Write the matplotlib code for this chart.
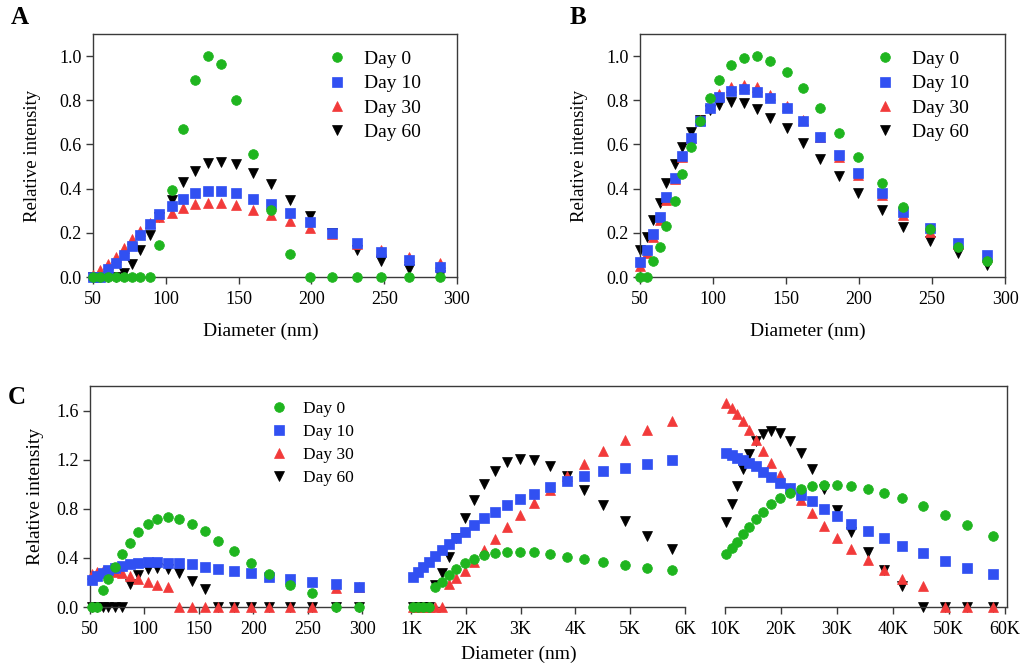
import matplotlib
matplotlib.use("Agg")
import matplotlib.pyplot as plt
from matplotlib.lines import Line2D
from matplotlib.ticker import FormatStrFormatter

W, H = 1022, 668

labels = ["Day 0", "Day 10", "Day 30", "Day 60"]
colors = ["#1fb51f", "#3150f2", "#f23a3a", "#000000"]
markers = ["o", "s", "^", "v"]
msizes = [7.0, 6.5, 7.0, 7.0]
zorders = [5, 4, 3, 2]

# ---- Panel A (diameter in nm) ----
a_diam = [50.2, 54.8, 60.2, 66.0, 71.0, 77.0, 82.3, 89.3, 95.6, 104.5, 112, 120,
          129, 138, 148, 160, 172, 185, 199, 214, 231, 248, 267, 288]
a_day0 = [0, 0, 0, 0, 0, 0, 0, 0, 0.145, 0.394, 0.67, 0.894,
          1.0, 0.962, 0.80, 0.556, 0.303, 0.104, 0, 0, 0, 0, 0, 0]
a_day10 = [0.0, 0.0, 0.035, 0.062, 0.10, 0.14, 0.19, 0.24, 0.285, 0.323, 0.355, 0.379,
           0.39, 0.39, 0.38, 0.355, 0.33, 0.29, 0.247, 0.20, 0.155, 0.112, 0.077, 0.047]
a_day30 = [0.01, 0.03, 0.06, 0.09, 0.13, 0.17, 0.21, 0.245, 0.27, 0.29, 0.314, 0.329,
           0.333, 0.333, 0.324, 0.303, 0.28, 0.252, 0.223, 0.193, 0.15, 0.12, 0.09, 0.065]
a_day60 = [0, 0, 0, 0, 0.02, 0.06, 0.12, 0.19, 0.27, 0.35, 0.43, 0.48,
           0.515, 0.52, 0.51, 0.47, 0.42, 0.35, 0.276, 0.20, 0.122, 0.074, 0.035, 0.01]

# ---- Panel B ----
b_diam = [50, 54.6, 58.7, 63.7, 67.8, 73.8, 79, 85, 91, 98, 104, 112, 121,
          130, 139, 150.5, 161.4, 173, 186, 199.5, 216, 230, 248.6, 267.6, 288]
b_day0 = [0, 0, 0.074, 0.137, 0.232, 0.344, 0.466, 0.587, 0.706, 0.811, 0.894, 0.959, 0.992,
          1.0, 0.977, 0.929, 0.854, 0.763, 0.653, 0.542, 0.427, 0.315, 0.216, 0.134, 0.071]
b_day10 = [0.07, 0.122, 0.195, 0.273, 0.36, 0.45, 0.547, 0.63, 0.706, 0.766, 0.816, 0.842, 0.851,
           0.838, 0.811, 0.766, 0.706, 0.635, 0.552, 0.469, 0.381, 0.296, 0.22, 0.155, 0.10]
b_day30 = [0.05, 0.11, 0.18, 0.26, 0.35, 0.445, 0.545, 0.63, 0.71, 0.78, 0.83, 0.86, 0.87,
           0.86, 0.825, 0.775, 0.71, 0.635, 0.545, 0.46, 0.37, 0.28, 0.205, 0.15, 0.09]
b_day60 = [0.122, 0.183, 0.258, 0.336, 0.424, 0.511, 0.587, 0.655, 0.71, 0.756, 0.778, 0.793, 0.786,
           0.759, 0.721, 0.673, 0.605, 0.533, 0.457, 0.379, 0.303, 0.228, 0.164, 0.107, 0.054]

# ---- Panel C, segment 1 (nm) ----
c1_diam = [51.5, 56.7, 62.3, 66.8, 73, 79, 86.8, 94.4, 103, 112, 121.4,
           132, 143.4, 155.6, 167.9, 182.4, 197.7, 214.8, 233.8, 254.4, 276, 297]
c1_day0 = [0, 0, 0.138, 0.225, 0.323, 0.43, 0.523, 0.607, 0.675, 0.718, 0.732,
           0.718, 0.68, 0.62, 0.539, 0.458, 0.36, 0.268, 0.179, 0.116, 0, 0]
c1_day10 = [0.22, 0.25, 0.28, 0.30, 0.32, 0.335, 0.35, 0.36, 0.365, 0.365, 0.36,
            0.355, 0.347, 0.328, 0.309, 0.293, 0.274, 0.247, 0.228, 0.206, 0.184, 0.165]
c1_day30 = [0.27, 0.285, 0.29, 0.29, 0.285, 0.275, 0.25, 0.225, 0.205, 0.18, 0.16,
            0, 0, 0, 0, 0, 0, 0, 0, 0, 0.155, 0.165]
c1_day60 = [0, 0, 0, 0, 0, 0, 0.187, 0.26, 0.306, 0.314, 0.306,
            0.274, 0.214, 0.146, 0, 0, 0, 0, 0, 0, 0, 0]

# ---- Panel C, segment 2 (K nm) ----
c2_diam = [1.037, 1.126, 1.221, 1.325, 1.438, 1.56, 1.70, 1.83, 1.985, 2.15, 2.34,
           2.53, 2.76, 2.99, 3.25, 3.54, 3.84, 4.16, 4.51, 4.90, 5.31, 5.77]
c2_day0 = [0, 0, 0, 0, 0.16, 0.206, 0.26, 0.306, 0.355, 0.39, 0.423,
           0.441, 0.45, 0.45, 0.445, 0.43, 0.409, 0.388, 0.363, 0.341, 0.32, 0.301]
c2_day10 = [0.247, 0.287, 0.328, 0.368, 0.415, 0.463, 0.512, 0.564, 0.612, 0.667, 0.721,
            0.775, 0.829, 0.881, 0.924, 0.978, 1.024, 1.065, 1.106, 1.136, 1.168, 1.20]
c2_day30 = [0, 0, 0, 0, 0, 0, 0.187, 0.238, 0.295, 0.368, 0.463,
            0.55, 0.648, 0.748, 0.851, 0.957, 1.065, 1.168, 1.268, 1.358, 1.439, 1.512]
c2_day60 = [0, 0, 0, 0, 0.18, 0.279, 0.404, 0.56, 0.721, 0.87, 0.998,
            1.108, 1.181, 1.209, 1.2, 1.149, 1.068, 0.957, 0.829, 0.702, 0.58, 0.472]

# ---- Panel C, segment 3 (K nm) ----
c3_diam = [10.18, 11.2, 12.2, 13.2, 14.35, 15.54, 16.85, 18.3, 19.9, 21.6, 23.5,
           25.5, 27.7, 30.05, 32.6, 35.5, 38.45, 41.7, 45.4, 49.3, 53.3, 57.9]
c3_day0 = [0.428, 0.477, 0.531, 0.593, 0.653, 0.713, 0.775, 0.835, 0.884, 0.929, 0.965,
           0.986, 0.997, 0.997, 0.986, 0.965, 0.929, 0.884, 0.821, 0.748, 0.667, 0.58]
c3_day10 = [1.255, 1.235, 1.215, 1.195, 1.17, 1.145, 1.10, 1.06, 1.014, 0.97, 0.911,
            0.862, 0.802, 0.742, 0.68, 0.62, 0.558, 0.498, 0.436, 0.377, 0.32, 0.268]
c3_day30 = [1.661, 1.623, 1.575, 1.515, 1.445, 1.358, 1.271, 1.173, 1.073, 0.97, 0.87,
            0.762, 0.661, 0.558, 0.469, 0.382, 0.301, 0.228, 0.171, 0, 0, 0]
c3_day60 = [0.694, 0.837, 0.984, 1.127, 1.249, 1.352, 1.412, 1.434, 1.417, 1.352, 1.255,
            1.122, 0.959, 0.789, 0.612, 0.445, 0.301, 0.173, 0, 0, 0, 0]

SPINE = "#3a3a3a"
plt.rcParams["font.family"] = ["Liberation Serif", "DejaVu Serif"]
plt.rcParams["axes.linewidth"] = 1.0
plt.rcParams["axes.edgecolor"] = SPINE


def add_px_axes(fig, left, top, right, bottom):
    return fig.add_axes([left / W, 1 - bottom / H, (right - left) / W, (bottom - top) / H])


def draw_series(ax, x, ys):
    for y, lab, c, m, ms, z in zip(ys, labels, colors, markers, msizes, zorders):
        ax.plot(x, y, ls="none", marker=m, ms=ms, color=c, mec=c, mew=0.5,
                label=lab, zorder=z, clip_on=False)


def style_ticks(ax, size=13):
    ax.tick_params(direction="out", length=5, width=1.0, color=SPINE,
                   labelsize=size, pad=3)
    ax.tick_params(axis="x", pad=5)


def px_legend(ax, x_marker, y_row, fs, spacing):
    fs_px = fs * 100 / 72
    hl = 0.8
    x0 = x_marker - hl * fs_px / 2
    ax.legend(loc="upper left", bbox_to_anchor=(x0 / W, 1 - (y_row - 0.55 * fs_px) / H),
              bbox_transform=fig.transFigure, frameon=False, fontsize=fs,
              handlelength=hl, handletextpad=1.0, labelspacing=spacing,
              borderpad=0, borderaxespad=0, numpoints=1)


fig = plt.figure(figsize=(W / 100, H / 100), dpi=100)

# Panels A and B
for (left, right, diam, ys, tag, tag_x, lx, leg_x) in [
        (93, 457, a_diam, [a_day0, a_day10, a_day30, a_day60], "A", 20, 261, 337),
        (640, 1005, b_diam, [b_day0, b_day10, b_day30, b_day60], "B", 578, 808, 885)]:
    ax = add_px_axes(fig, left, 34, right, 277)
    draw_series(ax, diam, ys)
    ax.set_xlim(50, 300)
    ax.set_ylim(0, 1.1)
    ax.set_xticks([50, 100, 150, 200, 250, 300])
    ax.set_yticks([0, 0.2, 0.4, 0.6, 0.8, 1.0])
    ax.yaxis.set_major_formatter(FormatStrFormatter("%.1f"))
    style_ticks(ax)
    ax.set_ylabel("Relative intensity", fontsize=13.5)
    ax.yaxis.set_label_coords(-52 / (right - left), 0.5)
    ax.set_xlabel("Diameter (nm)", fontsize=14)
    ax.xaxis.set_label_coords((lx - left) / (right - left), -0.19)
    px_legend(ax, leg_x, 61, 14, 0.35)
    fig.text(tag_x / W, 1 - 18 / H, tag, fontsize=18, fontweight="bold",
             ha="center", va="center")

# Panel C: broken x axis in three segments
c_top, c_bot = 386, 607
segs = [
    (90, 362, c1_diam, [c1_day0, c1_day10, c1_day30, c1_day60], (50, 300),
     [50, 100, 150, 200, 250, 300], ["50", "100", "150", "200", "250", "300"]),
    (411, 685, c2_diam, [c2_day0, c2_day10, c2_day30, c2_day60], (1, 6),
     [1, 2, 3, 4, 5, 6], ["1K", "2K", "3K", "4K", "5K", "6K"]),
    (725, 1007, c3_diam, [c3_day0, c3_day10, c3_day30, c3_day60], (10, 60.4),
     [10, 20, 30, 40, 50, 60], ["10K", "20K", "30K", "40K", "50K", "60K"]),
]
for i, (left, right, diam, ys, xlim, ticks, ticklabels) in enumerate(segs):
    ax = add_px_axes(fig, left, c_top, right, c_bot)
    ax.patch.set_alpha(0)
    draw_series(ax, diam, ys)
    ax.set_xlim(*xlim)
    ax.set_ylim(0, 1.8)
    ax.set_xticks(ticks)
    ax.set_xticklabels(ticklabels)
    ax.spines["top"].set_visible(False)
    ax.spines["left"].set_visible(i == 0)
    ax.spines["right"].set_visible(i == 2)
    style_ticks(ax)
    if i == 0:
        ax.set_yticks([0, 0.4, 0.8, 1.2, 1.6])
        ax.yaxis.set_major_formatter(FormatStrFormatter("%.1f"))
        ax.set_ylabel("Relative intensity", fontsize=14)
        ax.yaxis.set_label_coords(-46 / (right - left), 0.5)
        px_legend(ax, 279, 410, 12.5, 0.4)
    else:
        ax.set_yticks([])

fig.add_artist(Line2D([90 / W, 1007 / W], [1 - c_top / H] * 2, color=SPINE, lw=1.0))
fig.text(519 / W, 1 - 654 / H, "Diameter (nm)", fontsize=14, ha="center", va="center")
fig.text(17 / W, 1 - 398 / H, "C", fontsize=18, fontweight="bold", ha="center", va="center")

fig.savefig("out.png", dpi=100)
